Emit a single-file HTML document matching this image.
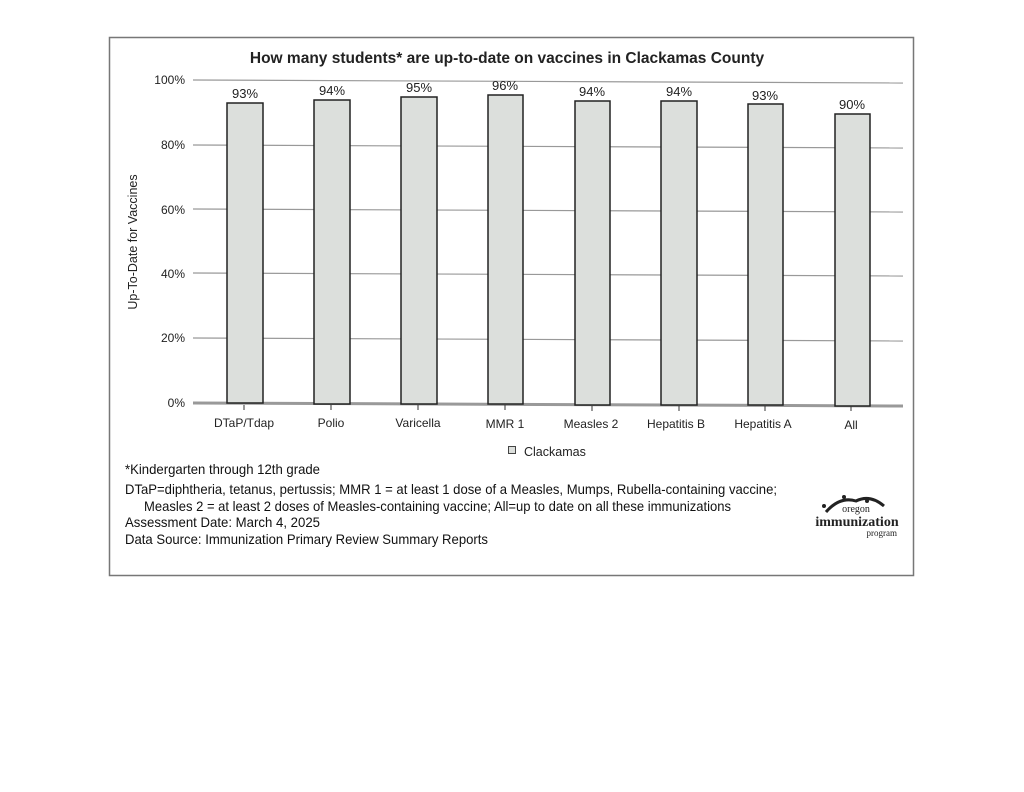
<!DOCTYPE html>
<html><head><meta charset="utf-8"><style>
html,body{margin:0;padding:0;background:#fff;}
svg{display:block;font-family:"Liberation Sans",sans-serif;}
</style></head><body>
<svg width="1024" height="792" viewBox="0 0 1024 792" xmlns="http://www.w3.org/2000/svg">
<rect x="0" y="0" width="1024" height="792" fill="#fff"/>
<rect x="109.5" y="37.5" width="804" height="538" fill="none" stroke="#777" stroke-width="1.5"/>
<text x="507" y="63" font-size="15.5" font-weight="bold" text-anchor="middle" fill="#222">How many students* are up-to-date on vaccines in Clackamas County</text>
<g stroke="#999" stroke-width="1.2">
<line x1="193" y1="80" x2="903" y2="83"/>
<line x1="193" y1="145" x2="903" y2="148"/>
<line x1="193" y1="209" x2="903" y2="212"/>
<line x1="193" y1="273" x2="903" y2="276"/>
<line x1="193" y1="338" x2="903" y2="341"/>
</g>
<line x1="193" y1="403" x2="903" y2="406" stroke="#999" stroke-width="3"/>
<g font-size="12" fill="#222" text-anchor="end">
<text x="185" y="84">100%</text>
<text x="185" y="149">80%</text>
<text x="185" y="214">60%</text>
<text x="185" y="278">40%</text>
<text x="185" y="342">20%</text>
<text x="185" y="407">0%</text>
</g>
<text transform="translate(137,242) rotate(-90)" font-size="12.5" fill="#222" text-anchor="middle">Up-To-Date for Vaccines</text>
<g fill="#dcdfdc" stroke="#222" stroke-width="1.5">
<rect x="227" y="103" width="36" height="300"/>
<rect x="314" y="100" width="36" height="304"/>
<rect x="401" y="97" width="36" height="307"/>
<rect x="488" y="95" width="35" height="309"/>
<rect x="575" y="101" width="35" height="304"/>
<rect x="661" y="101" width="36" height="304"/>
<rect x="748" y="104" width="35" height="301"/>
<rect x="835" y="114" width="35" height="292"/>
</g>
<g font-size="13" fill="#222" text-anchor="middle">
<text x="245" y="98">93%</text>
<text x="332" y="95">94%</text>
<text x="419" y="92">95%</text>
<text x="505" y="90">96%</text>
<text x="592" y="96">94%</text>
<text x="679" y="96">94%</text>
<text x="765" y="100">93%</text>
<text x="852" y="109">90%</text>
</g>
<g stroke="#333" stroke-width="1">
<line x1="244" y1="405" x2="244" y2="410"/>
<line x1="331" y1="405" x2="331" y2="410"/>
<line x1="418" y1="405" x2="418" y2="410"/>
<line x1="505" y1="405" x2="505" y2="410"/>
<line x1="592" y1="406" x2="592" y2="411"/>
<line x1="679" y1="406" x2="679" y2="411"/>
<line x1="765" y1="406" x2="765" y2="411"/>
<line x1="851" y1="406" x2="851" y2="411"/>
</g>
<g font-size="12" fill="#222" text-anchor="middle">
<text x="244" y="427">DTaP/Tdap</text>
<text x="331" y="427">Polio</text>
<text x="418" y="427">Varicella</text>
<text x="505" y="428">MMR 1</text>
<text x="591" y="428">Measles 2</text>
<text x="676" y="428">Hepatitis B</text>
<text x="763" y="428">Hepatitis A</text>
<text x="851" y="429">All</text>
</g>
<rect x="508.5" y="446.5" width="7" height="7" fill="#dcdfdc" stroke="#444" stroke-width="1"/>
<text x="524" y="456" font-size="12.5" fill="#222">Clackamas</text>
<g font-size="14" fill="#111">
<text x="125" y="474" textLength="195" lengthAdjust="spacingAndGlyphs">*Kindergarten through 12th grade</text>
<text x="125" y="494" textLength="652" lengthAdjust="spacingAndGlyphs">DTaP=diphtheria, tetanus, pertussis; MMR 1 = at least 1 dose of a Measles, Mumps, Rubella-containing vaccine;</text>
<text x="144" y="511" textLength="587" lengthAdjust="spacingAndGlyphs">Measles 2 = at least 2 doses of Measles-containing vaccine; All=up to date on all these immunizations</text>
<text x="125" y="527" textLength="195" lengthAdjust="spacingAndGlyphs">Assessment Date: March 4, 2025</text>
<text x="125" y="544" textLength="363" lengthAdjust="spacingAndGlyphs">Data Source: Immunization Primary Review Summary Reports</text>
</g>
<g fill="#222">
<path d="M826 512 Q840 496 856 501 Q870 494 884 506" fill="none" stroke="#222" stroke-width="3"/>
<circle cx="844" cy="497" r="2"/><circle cx="867" cy="501" r="2"/><circle cx="824" cy="506" r="2"/>
<text x="856" y="512" font-family="Liberation Serif,serif" font-size="10" text-anchor="middle">oregon</text>
<text x="857" y="526" font-family="Liberation Serif,serif" font-size="14" font-weight="bold" text-anchor="middle">immunization</text>
<text x="897" y="536" font-family="Liberation Serif,serif" font-size="9" text-anchor="end">program</text>
</g>
</svg>
</body></html>
